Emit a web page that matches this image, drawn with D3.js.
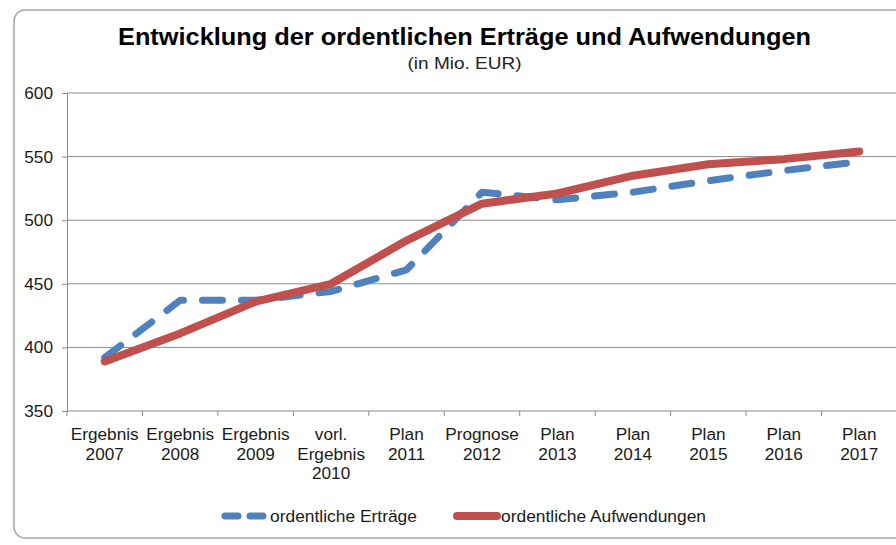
<!DOCTYPE html>
<html><head><meta charset="utf-8">
<script src="https://cdn.jsdelivr.net/npm/d3@7"></script>
<style>
html,body{margin:0;padding:0;background:#fff;}
svg{display:block;font-family:"Liberation Sans",Arial,sans-serif;}
</style></head>
<body><svg id="c" width="896" height="545"></svg>
<script>
const categories = [
  ["Ergebnis","2007"],["Ergebnis","2008"],["Ergebnis","2009"],["vorl.","Ergebnis","2010"],
  ["Plan","2011"],["Prognose","2012"],["Plan","2013"],["Plan","2014"],
  ["Plan","2015"],["Plan","2016"],["Plan","2017"]
];
const ertraege     = [392, 437, 437, 444, 461, 522, 516, 522, 531, 539, 546];
const aufwendungen = [389, 411, 436, 450, 484, 513, 521, 535, 544, 548, 554];
const yTicks = [350, 400, 450, 500, 550, 600];
const seriesNames = ["ordentliche Erträge", "ordentliche Aufwendungen"];
const title = "Entwicklung der ordentlichen Erträge und Aufwendungen";
const subtitle = "(in Mio. EUR)";

(function(){
const svg = d3.select("#c");
const W = 896, H = 545;
const blue = "#4F81BD", red = "#C0504D", grid = "#8c8c8c", txt = "#1a1a1a";
const fs = "17.2px";

// frame
svg.append("rect").attr("x",14).attr("y",10).attr("width",910).attr("height",528)
  .attr("rx",11).attr("fill","#fff").attr("stroke","#a6a6a6").attr("stroke-width",1.5);

const pLeft = 67, pRight = 897, pTop = 93, pBottom = 411;
const keys = categories.map((c,i)=>i);
const x = d3.scaleBand().domain(keys).range([pLeft,pRight]).padding(0);
const y = d3.scaleLinear().domain([350,600]).range([pBottom,pTop]);
const cx = i => x(i) + x.bandwidth()/2;

// gridlines
svg.append("g").selectAll("line").data(yTicks.filter(t=>t>350)).join("line")
  .attr("x1",pLeft).attr("x2",W).attr("y1",d=>y(d)).attr("y2",d=>y(d))
  .attr("stroke",grid).attr("stroke-width",1);

// y axis
const ya = svg.append("g").attr("transform",`translate(${pLeft},0)`)
  .call(d3.axisLeft(y).tickValues(yTicks).tickSize(5).tickPadding(9));
ya.select(".domain").attr("stroke",grid);
ya.selectAll(".tick line").attr("stroke",grid);
ya.selectAll(".tick text").attr("font-size",fs).attr("fill",txt)
  .attr("font-family","'Liberation Sans',Arial,sans-serif");

// x axis line
svg.append("line").attr("x1",pLeft).attr("x2",W).attr("y1",pBottom).attr("y2",pBottom)
  .attr("stroke",grid).attr("stroke-width",1);
// x ticks at band boundaries
svg.append("g").selectAll("line").data(keys).join("line")
  .attr("x1",d=>x(d)).attr("x2",d=>x(d)).attr("y1",pBottom).attr("y2",pBottom+5)
  .attr("stroke",grid);
// x labels
const xa = svg.append("g").attr("transform",`translate(0,${pBottom})`)
  .call(d3.axisBottom(x).tickSize(0).tickFormat(""));
xa.select(".domain").remove();
xa.selectAll(".tick").each(function(d){
  const t = d3.select(this).append("text").attr("text-anchor","middle")
    .attr("fill",txt).attr("font-size",fs)
    .attr("font-family","'Liberation Sans',Arial,sans-serif");
  categories[d].forEach((s,j)=>{
    t.append("tspan").attr("x",0).attr("y",29 + j*19.5).text(s);
  });
});

// lines
const line = d3.line().x((d,i)=>cx(i)).y(d=>y(d));
svg.append("path").datum(ertraege).attr("d",line)
  .attr("fill","none").attr("stroke",blue).attr("stroke-width",7)
  .attr("stroke-dasharray","20,19")
  .attr("stroke-linecap","round").attr("stroke-linejoin","round");
svg.append("path").datum(aufwendungen).attr("d",line)
  .attr("fill","none").attr("stroke",red).attr("stroke-width",8)
  .attr("stroke-linecap","round").attr("stroke-linejoin","round");

// title
svg.append("text").attr("x",464.5).attr("y",45).attr("text-anchor","middle")
  .attr("font-size","24px").attr("font-weight","bold").attr("fill","#000")
  .attr("textLength",693).attr("lengthAdjust","spacingAndGlyphs").text(title);
svg.append("text").attr("x",464.5).attr("y",69).attr("text-anchor","middle")
  .attr("font-size","16.5px").attr("fill","#222")
  .attr("textLength",114).attr("lengthAdjust","spacingAndGlyphs").text(subtitle);

// legend
const ly = 516;
svg.append("line").attr("x1",225).attr("x2",265).attr("y1",ly).attr("y2",ly)
  .attr("stroke",blue).attr("stroke-width",7).attr("stroke-linecap","round")
  .attr("stroke-dasharray","13,12");
svg.append("text").attr("x",270).attr("y",ly+6).attr("font-size","17.4px").attr("fill",txt)
  .text(seriesNames[0]);
svg.append("line").attr("x1",457).attr("x2",497).attr("y1",ly).attr("y2",ly)
  .attr("stroke",red).attr("stroke-width",8).attr("stroke-linecap","round");
svg.append("text").attr("x",501).attr("y",ly+6).attr("font-size","17.4px").attr("fill",txt)
  .text(seriesNames[1]);
})();
</script></body></html>
